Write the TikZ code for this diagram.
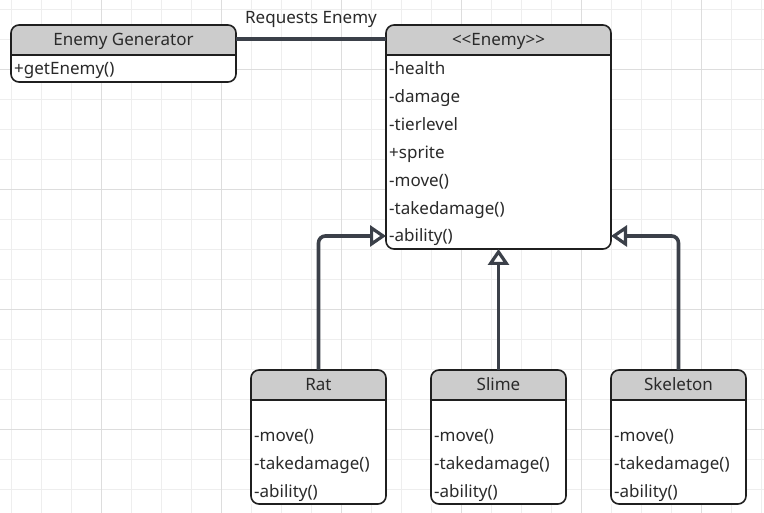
\documentclass[tikz,border=0pt]{standalone}
\usepackage{fontspec}
\setmainfont{Noto Sans}
\usetikzlibrary{arrows.meta,calc}

\definecolor{gridminor}{HTML}{EEEEEE}
\definecolor{gridmajor}{HTML}{DDDDDD}
\definecolor{hdr}{HTML}{CCCCCC}
\definecolor{wire}{HTML}{3B4049}
\definecolor{ink}{HTML}{2A2A2A}

% class box: name, x, y, width, height, title
\newcommand\umlclass[6]{%
  \node[classbox, minimum width=#4pt, minimum height=#5pt] (#1) at (#2,#3) {};
  \begin{scope}
    \clip[rounded corners=8pt] (#1.north west) rectangle (#1.south east);
    \fill[hdr] (#1.north west) rectangle ([yshift=-30pt]#1.north east);
  \end{scope}
  \draw[divider] ([yshift=-30pt]#1.north west) -- ([yshift=-30pt]#1.north east);
  \draw[border] (#1.north west) rectangle (#1.south east);
  \node[title] (#1-title) at ([yshift=-15pt]#1.north) {#6};
}

\begin{document}
\begin{tikzpicture}[x=1pt,y=-1pt,
  classbox/.style={draw=none, fill=white, anchor=north west, inner sep=0pt, outer sep=0pt},
  border/.style={draw=black!88, line width=1.6pt, rounded corners=8pt},
  divider/.style={draw=black!88, line width=1.6pt},
  % fixed text box so every label sits on the same baseline offset
  txt/.style={font=\fontsize{17}{19}\selectfont, text=ink, inner sep=0pt,
    text height=15pt, text depth=3pt},
  title/.style={txt},
  member/.style={txt, anchor=west},
  link/.style={draw=wire, line width=3.6pt},
  inherit/.style={link, rounded corners=7pt,
    -{Triangle[open, fill=white, length=16pt, width=21pt, line width=3.2pt]}},
]
% canvas and grid
\fill[white] (0,0) rectangle (764,513);
\useasboundingbox (0,0) rectangle (764,513);
\foreach \x in {11.7,41.7,...,761.7} \draw[gridminor, line width=0.9pt] (\x,0) -- (\x,513);
\foreach \y in {9.3,39.3,...,510} \draw[gridminor, line width=0.9pt] (0,\y) -- (764,\y);
\foreach \x in {101.7,221.7,...,701.7} \draw[gridmajor, line width=0.9pt] (\x,0) -- (\x,513);
\foreach \y in {69.3,189.3,...,429.3} \draw[gridmajor, line width=0.9pt] (0,\y) -- (764,\y);

% classes
\umlclass{gen}{11}{25}{225}{57}{Enemy Generator}
\node[member] (gen-1) at ([xshift=3pt]gen.west |- 0,69) {+getEnemy()};

\umlclass{enemy}{386}{25}{225}{224}{<{}<Enemy>{}>}
\foreach \t [count=\i] in {-health,-damage,-tierlevel,+sprite,-move(),-takedamage(),-ability()}
  \node[member] (enemy-\i) at ([xshift=3pt]enemy.west |- 0,{69+27.83*(\i-1)}) {\t};

\foreach \n/\x/\t in {rat/251/Rat, slime/431/Slime, skel/611/Skeleton}{
  \umlclass{\n}{\x}{370}{135}{134}{\t}
  \node[member] (\n-1) at ([xshift=3pt]\n.west |- 0,436) {-move()};
  \node[member] (\n-2) at ([xshift=3pt]\n.west |- 0,463.5) {-takedamage()};
  \node[member] (\n-3) at ([xshift=3pt]\n.west |- 0,491) {-ability()};
}

% association
\draw[link] (gen.east |- 0,39) -- (enemy.west |- 0,39);
\node[title] (req) at (311,18) {Requests Enemy};

% generalisations
\draw[inherit] (rat.north) |- (enemy.west |- enemy-7);
\draw[inherit] (slime.north) -- (enemy.south -| slime.north);
\draw[inherit] (skel.north) |- (enemy.east |- enemy-7);
\end{tikzpicture}
\end{document}
